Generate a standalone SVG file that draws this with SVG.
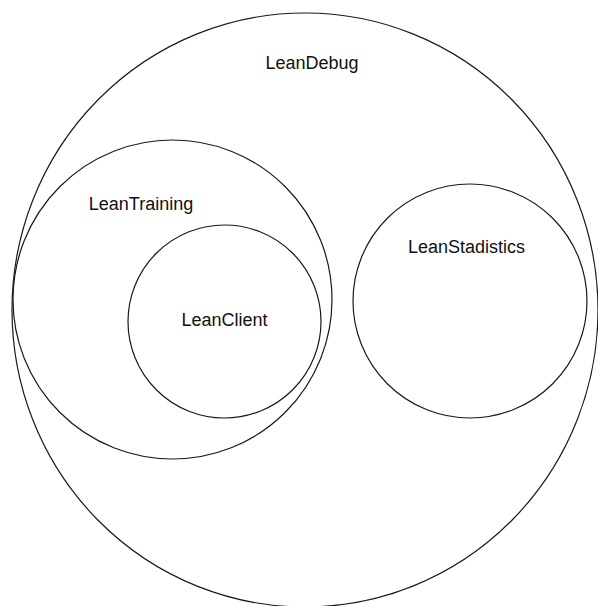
<svg xmlns="http://www.w3.org/2000/svg" width="598" height="606" viewBox="0 0 598 606">
  <style>
    .set { fill: none; stroke: #1a1a1a; stroke-width: 1.2; }
    .label { font-family: "Liberation Sans", Arial, sans-serif; font-size: 18px; fill: #111; text-anchor: middle; }
  </style>
  <rect width="598" height="606" fill="#ffffff"/>
  <!-- Outer set -->
  <g id="LeanDebug">
    <ellipse class="set" cx="305" cy="310" rx="293" ry="297"/>
    <text class="label" x="312" y="69">LeanDebug</text>
  </g>
  <g id="LeanTraining">
    <circle class="set" cx="172.5" cy="299.5" r="159.5"/>
    <text class="label" x="141" y="210">LeanTraining</text>
  </g>
  <g id="LeanClient">
    <circle class="set" cx="224.5" cy="321.5" r="96.5"/>
    <text class="label" x="224.5" y="326">LeanClient</text>
  </g>
  <g id="LeanStadistics">
    <circle class="set" cx="470" cy="301" r="117"/>
    <text class="label" x="466.5" y="253">LeanStadistics</text>
  </g>
  <g id="connectors"/>
</svg>
